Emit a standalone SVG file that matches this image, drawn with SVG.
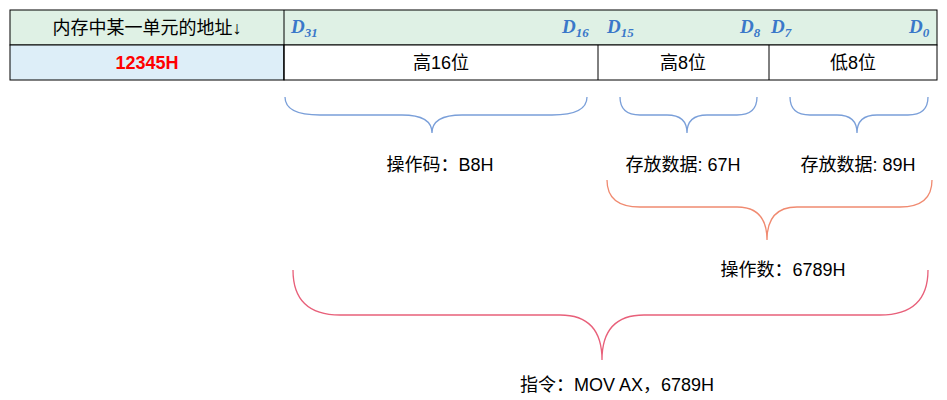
<svg xmlns="http://www.w3.org/2000/svg" width="947" height="400" viewBox="0 0 947 400">
<style>
text{font-family:"Liberation Sans","Noto Sans CJK SC",sans-serif;font-size:18px;fill:#000}
.d{font-family:"Liberation Serif",serif;font-style:italic;font-weight:bold;fill:#3a78c9;font-size:19px}
.d tspan{font-size:13px}
.b{fill:none;stroke-width:1.3}
</style>
<g id="table" stroke="#000" stroke-width="1">
<rect x="10" y="10" width="927" height="35" fill="#dff1e5"/>
<rect x="10" y="45" width="274" height="35" fill="#ddeef8"/>
<rect x="284" y="45" width="653" height="35" fill="#fff"/>
<line x1="284" y1="10" x2="284" y2="80"/>
<line x1="598" y1="45" x2="598" y2="80"/>
<line x1="769" y1="45" x2="769" y2="80"/>
</g>
<g id="labels">
<text x="147" y="34" text-anchor="middle">内存中某一单元的地址↓</text>
<text x="147" y="69" text-anchor="middle" font-weight="bold" style="fill:#f00">12345H</text>
<text x="441" y="69" text-anchor="middle">高16位</text>
<text x="683" y="69" text-anchor="middle">高8位</text>
<text x="853" y="69" text-anchor="middle">低8位</text>
<text class="d" x="291" y="33">D<tspan dy="4">31</tspan></text>
<text class="d" x="562" y="33">D<tspan dy="4">16</tspan></text>
<text class="d" x="607" y="33">D<tspan dy="4">15</tspan></text>
<text class="d" x="740" y="33">D<tspan dy="4">8</tspan></text>
<text class="d" x="771" y="33">D<tspan dy="4">7</tspan></text>
<text class="d" x="909" y="33">D<tspan dy="4">0</tspan></text>
</g>
<g id="braces">
<path class="b" stroke="#7a9fd9" d="M285,97 Q285,115 320,115 L402,115 Q432,115 432,133 Q432,115 462,115 L552,115 Q587,115 587,97"/>
<path class="b" stroke="#7a9fd9" d="M620,97 Q620,115 640,115 L667,115 Q687,115 687,133 Q687,115 707,115 L737,115 Q757,115 757,97"/>
<path class="b" stroke="#7a9fd9" d="M790,97 Q790,115 810,115 L837,115 Q857,115 857,133 Q857,115 877,115 L908,115 Q928,115 928,97"/>
<path class="b" stroke="#f08a70" d="M607,180 Q607,207 640,207 L737,207 Q767,207 767,240 Q767,207 797,207 L900,207 Q932,207 932,180"/>
<path class="b" stroke="#e8607a" d="M293,270 Q293,315 340,315 L560,315 Q602,315 602,360 Q602,315 644,315 L880,315 Q928,315 928,270"/>
</g>
<g id="texts">
<text x="440" y="171" text-anchor="middle">操作码：B8H</text>
<text x="683" y="171" text-anchor="middle">存放数据: 67H</text>
<text x="858" y="171" text-anchor="middle">存放数据: 89H</text>
<text x="783" y="276" text-anchor="middle">操作数：6789H</text>
<text x="617" y="391" text-anchor="middle">指令：MOV  AX，6789H</text>
</g>
</svg>
